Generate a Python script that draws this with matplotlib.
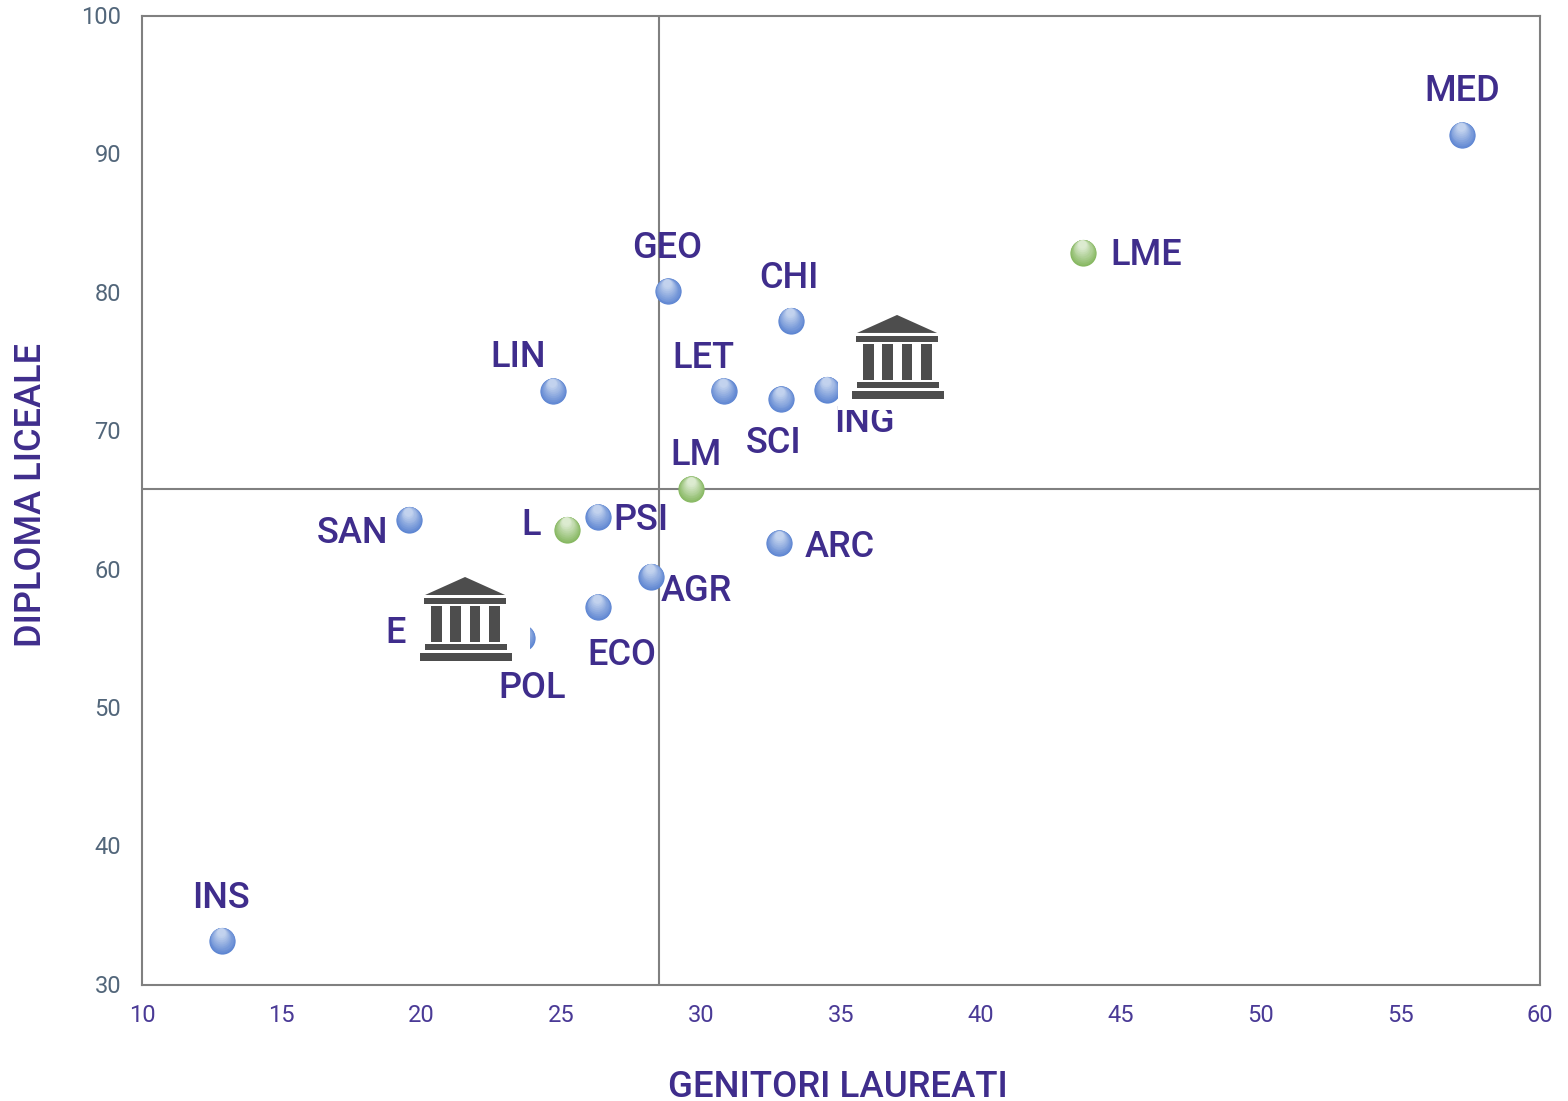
import matplotlib
matplotlib.use("Agg")
import matplotlib.pyplot as plt
from matplotlib.colors import to_rgb
from matplotlib.patches import Polygon, Rectangle
from matplotlib.transforms import Affine2D, ScaledTranslation, offset_copy

plt.rcParams['font.family'] = ['Roboto', 'DejaVu Sans']

# blue points: degree groups
codes = ["MED", "GEO", "CHI", "LIN", "LET", "SCI", "ING", "SAN", "PSI", "ARC", "AGR", "ECO", "POL", "E", "INS"]
genitori = [57.2, 28.8, 33.2, 24.7, 30.8, 32.85, 34.5, 19.55, 26.3, 32.8, 28.2, 26.3, 23.6, 21.5, 12.85]
liceale = [91.4, 80.1, 78.0, 72.9, 72.9, 72.3, 73.0, 63.6, 63.8, 61.9, 59.5, 57.3, 55.1, 55.1, 33.2]

# green points: degree types
type_codes = ["LME", "LM", "L"]
type_genitori = [43.65, 29.65, 25.2]
type_liceale = [82.9, 65.8, 62.9]

# label centres, in data units
label_x = [57.23, 28.8, 33.15, 23.45, 30.07, 32.6, 35.82, 17.52, 27.85, 34.97, 29.83, 27.17, 23.95, 19.08, 12.83]
label_y = [94.51, 83.24, 81.07, 75.33, 75.29, 69.15, 70.6, 62.65, 63.52, 61.57, 58.46, 53.8, 51.42, 55.4, 36.25]
type_label_x = [45.9, 29.82, 23.91]
type_label_y = [82.73, 68.22, 63.16]

x_ticks = [10, 15, 20, 25, 30, 35, 40, 45, 50, 55, 60]
y_ticks = [30, 40, 50, 60, 70, 80, 90, 100]
mean_genitori = 28.49
mean_liceale = 65.8

# the two building icons and the white backgrounds they carry
icon_centres = [(37.04, 75.37), (21.59, 56.44)]
icon_boxes = [(-60, -50, 52, 53), (-60, -50, 64, 53)]

PURPLE = "#3f2d8c"
GREY = "#808080"


def spheres(x, y, bottom, top, n=18):
    # layered discs, lighter and higher up, to fake the shaded ball
    b, t = to_rgb(bottom), to_rgb(top)
    for i in range(n):
        f = i / (n - 1)
        size = 18.9 - f * 13
        tr = offset_copy(ax.transData, fig=fig, x=-f * 0.5, y=(18.9 - size) * 0.46, units="points")
        c = [b[k] + (t[k] - b[k]) * f for k in range(3)]
        ax.scatter(x, y, s=size ** 2, color=[c], linewidths=0, transform=tr, zorder=3 + i * 0.01)


def building(cx, cy, box):
    # icon is measured in pixels from its centre, y pointing down
    px, py = ax.transData.transform((cx, cy))
    tr = Affine2D().scale(1, -1).translate(px, py)
    l, t, r, b = box
    fig.add_artist(Rectangle((l, t), r - l, b - t, transform=tr, color="white", lw=0, zorder=10))
    dark = "#4d4d4d"
    fig.add_artist(Polygon([(-1, -42), (-41, -24), (39, -24)], transform=tr, color=dark, lw=0, zorder=11))
    for x0, x1, y0, y1 in [(-42, 40, -21, -15), (-35, -24, -13, 23), (-16, -5, -13, 23), (4, 14, -13, 23),
                           (23, 34, -13, 23), (-41, 41, 25, 31), (-46, 46, 34, 42)]:
        fig.add_artist(Rectangle((x0, y0), x1 - x0, y1 - y0, transform=tr, color=dark, lw=0, zorder=11))


fig = plt.figure(figsize=(15.68, 11.01), dpi=100)
ax = fig.add_axes([142 / 1568, 1 - 985 / 1101, 1398 / 1568, 969 / 1101])
ax.set_xlim(10, 60)
ax.set_ylim(30, 100)

for s in ax.spines.values():
    s.set_color(GREY)
    s.set_linewidth(1.5)
ax.axvline(mean_genitori, color=GREY, lw=1.5, zorder=1)
ax.axhline(mean_liceale, color=GREY, lw=1.5, zorder=1)

spheres(genitori, liceale, "#5e86d2", "#c2d2ee")
spheres(type_genitori, type_liceale, "#87b862", "#dcebd0")

for c, x, y in zip(codes + type_codes, label_x + type_label_x, label_y + type_label_y):
    ax.text(x, y, c, color=PURPLE, fontsize=26, fontweight="medium", ha="center", va="center", zorder=6)

ax.set_xticks(x_ticks)
ax.set_yticks(y_ticks)
ax.tick_params(length=0)
ax.tick_params(axis="x", labelsize=17, labelcolor="#4a3a96", pad=14)
ax.tick_params(axis="y", labelsize=17, labelcolor="#52667a", pad=15)
for t in ax.get_yticklabels():
    t.set_transform(t.get_transform() + ScaledTranslation(0, 0.012, fig.dpi_scale_trans))

ax.set_xlabel("GENITORI LAUREATI", color=PURPLE, fontsize=26.4, fontweight="medium")
ax.set_ylabel("DIPLOMA LICEALE", color=PURPLE, fontsize=26, fontweight="medium")
ax.xaxis.set_label_coords(0.4979, -0.0876)
ax.yaxis.set_label_coords(-0.0662, 0.5057)

for (cx, cy), box in zip(icon_centres, icon_boxes):
    building(cx, cy, box)

fig.savefig("out.png", dpi=100)
